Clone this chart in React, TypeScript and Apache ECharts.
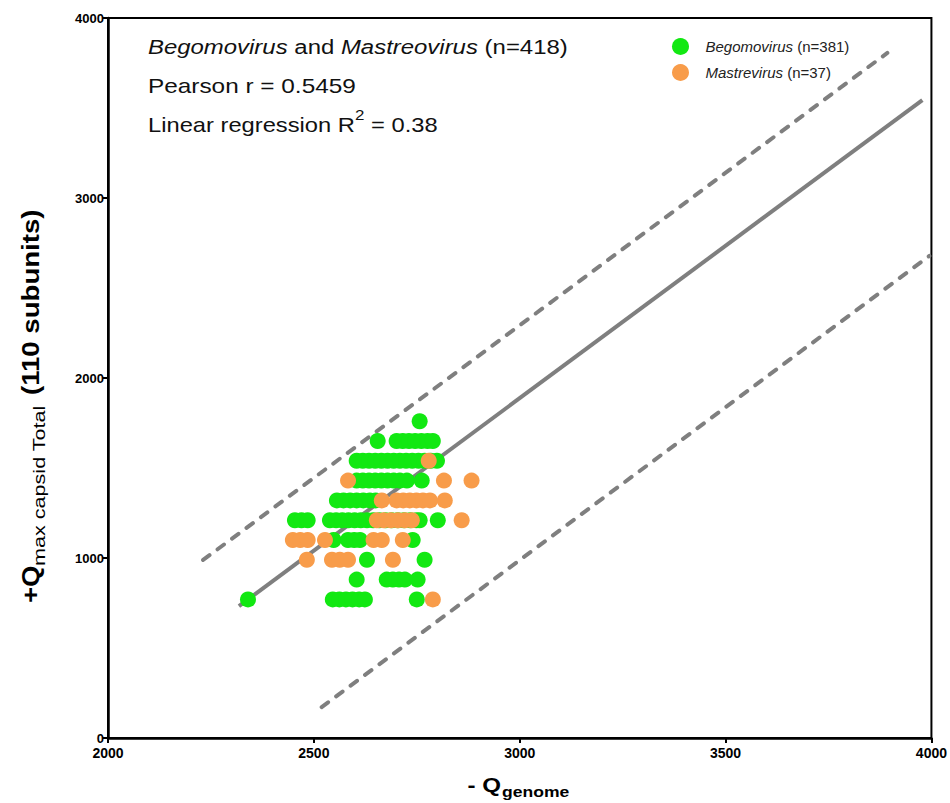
import React, { useEffect, useRef } from 'react';
import * as echarts from 'echarts';

const FONT = '"Liberation Sans", Arial, Helvetica, sans-serif';

// Axis ranges / ticks
const xRange = [2000, 4000];
const xStep = 500;
const yRange = [0, 4000];
const yStep = 1000;

// Begomovirus points [Q_genome, Q_max capsid]
const begomovirusPoints: number[][] = [
  [2340, 770], [2546, 770], [2562, 770], [2578, 770], [2594, 770], [2610, 770], [2624, 770], [2750, 770],
  [2604, 880], [2677, 880], [2692, 880], [2707, 880], [2721, 880], [2752, 880],
  [2629, 990], [2769, 990],
  [2548, 1100], [2583, 1100], [2598, 1100], [2612, 1100], [2740, 1100],
  [2454, 1210], [2470, 1210], [2485, 1210], [2539, 1210], [2554, 1210], [2569, 1210], [2584, 1210],
  [2599, 1210], [2614, 1210], [2629, 1210], [2644, 1210], [2659, 1210], [2674, 1210], [2689, 1210],
  [2704, 1210], [2719, 1210], [2734, 1210], [2749, 1210], [2757, 1210], [2801, 1210],
  [2556, 1320], [2572, 1320], [2588, 1320], [2604, 1320], [2620, 1320], [2636, 1320], [2650, 1320],
  [2604, 1430], [2619, 1430], [2634, 1430], [2649, 1430], [2664, 1430], [2679, 1430], [2694, 1430],
  [2709, 1430], [2726, 1430], [2762, 1430],
  [2604, 1540], [2619, 1540], [2634, 1540], [2649, 1540], [2664, 1540], [2679, 1540], [2694, 1540],
  [2709, 1540], [2724, 1540], [2739, 1540], [2754, 1540], [2769, 1540], [2784, 1540], [2799, 1540],
  [2655, 1650], [2701, 1650], [2716, 1650], [2731, 1650], [2746, 1650], [2761, 1650], [2776, 1650], [2789, 1650],
  [2757, 1760],
];

// Mastrevirus points
const mastrevirusPoints: number[][] = [
  [2789, 770],
  [2483, 990], [2544, 990], [2563, 990], [2583, 990], [2692, 990],
  [2449, 1100], [2467, 1100], [2485, 1100], [2527, 1100], [2645, 1100], [2665, 1100], [2716, 1100],
  [2653, 1210], [2670, 1210], [2687, 1210], [2704, 1210], [2721, 1210], [2738, 1210], [2859, 1210],
  [2665, 1320], [2701, 1320], [2717, 1320], [2733, 1320], [2749, 1320], [2765, 1320], [2782, 1320], [2818, 1320],
  [2583, 1430], [2816, 1430], [2883, 1430],
  [2779, 1540],
];

// Regression line and prediction bands (end points)
const regressionLine: number[][] = [[2318, 733], [3978, 3544]];
const upperBand: number[][] = [[2231, 989], [3893, 3806]];
const lowerBand: number[][] = [[2519, 172], [3995, 2678]];

const GREEN = '#12e812';
const ORANGE = '#f89c4a';
const GRAY = '#7f7f7f';

const tok = (size: number, extra: any = {}) => ({
  fontSize: size,
  fontFamily: FONT,
  fontWeight: 'normal',
  fontStyle: 'normal',
  fill: '#111',
  ...extra,
});

export default function App() {
  const ref = useRef<HTMLDivElement>(null);

  useEffect(() => {
    document.body.style.margin = '0';
    if (!ref.current) return;
    const chart = echarts.init(ref.current, undefined, { renderer: 'svg' });

    const axisCommon = {
      type: 'value' as const,
      axisLine: { show: true, onZero: false, lineStyle: { color: '#000', width: 2.5 } },
      axisTick: { show: true, length: 5, lineStyle: { color: '#000', width: 2 } },
      splitLine: { show: false },
      axisLabel: {
        color: '#000',
        fontWeight: 'bold' as const,
        fontSize: 14,
        fontFamily: FONT,
        formatter: (v: number) => String(v),
      },
    };

    chart.setOption({
      animation: false,
      backgroundColor: '#fff',
      grid: {
        left: 108,
        right: 18,
        top: 18,
        bottom: 65,
        show: true,
        borderColor: '#000',
        borderWidth: 2,
      },
      xAxis: {
        ...axisCommon,
        min: xRange[0],
        max: xRange[1],
        interval: xStep,
        axisLabel: { ...axisCommon.axisLabel, margin: 8 },
      },
      yAxis: {
        ...axisCommon,
        min: yRange[0],
        max: yRange[1],
        interval: yStep,
        axisLabel: { ...axisCommon.axisLabel, fontSize: 13, margin: 4 },
      },
      legend: {
        data: ['Begomovirus', 'Mastrevirus'],
        orient: 'vertical',
        left: 667,
        top: 33,
        icon: 'circle',
        itemWidth: 40,
        itemHeight: 17,
        itemGap: 9,
        textStyle: {
          fontSize: 15,
          fontFamily: FONT,
          color: '#222',
          rich: {
            i: { fontSize: 15, fontFamily: FONT, fontStyle: 'italic', color: '#222' },
          },
        },
        formatter: (name: string) =>
          name === 'Begomovirus' ? '{i|Begomovirus} (n=381)' : '{i|Mastrevirus} (n=37)',
      },
      graphic: [
        {
          type: 'text',
          x: 148,
          y: 47,
          scaleX: 1.14,
          style: {
            text: '{i|Begomovirus}{n| and }{i|Mastreovirus}{n| (n=418)}',
            verticalAlign: 'middle',
            align: 'left',
            rich: {
              i: tok(21, { fontStyle: 'italic' }),
              n: tok(21),
            },
            ...tok(21),
          },
        },
        {
          type: 'text',
          x: 148,
          y: 86,
          scaleX: 1.16,
          style: {
            text: 'Pearson r = 0.5459',
            verticalAlign: 'middle',
            align: 'left',
            ...tok(21),
          },
        },
        {
          type: 'text',
          x: 148,
          y: 121,
          scaleX: 1.13,
          style: {
            text: '{n|Linear regression R}{s|2}{n| = 0.38}',
            verticalAlign: 'middle',
            align: 'left',
            rich: {
              n: tok(21, { lineHeight: 28, verticalAlign: 'bottom' }),
              s: tok(15, { lineHeight: 16, verticalAlign: 'top' }),
            },
            ...tok(21),
          },
        },
        // x-axis title: - Q_genome
        {
          type: 'text',
          x: 501,
          y: 785,
          scaleX: 1.15,
          style: {
            text: '- Q',
            align: 'right',
            verticalAlign: 'middle',
            ...tok(21, { fontWeight: 'bold', fill: '#000' }),
          },
        },
        {
          type: 'text',
          x: 502,
          y: 791,
          scaleX: 1.17,
          style: {
            text: 'genome',
            align: 'left',
            verticalAlign: 'middle',
            ...tok(15, { fontWeight: 'bold', fill: '#000' }),
          },
        },
        // y-axis title: +Q_max capsid Total (110 subunits)
        {
          type: 'group',
          x: 31,
          y: 603,
          rotation: Math.PI / 2,
          children: [
            {
              type: 'text',
              x: 0,
              y: 0,
              scaleX: 1.2,
              style: {
                text: '+Q',
                align: 'left',
                verticalAlign: 'middle',
                ...tok(23, { fontWeight: 'bold', fill: '#000' }),
              },
            },
            {
              type: 'text',
              x: 37,
              y: 8,
              scaleX: 1.27,
              style: {
                text: 'max capsid Total',
                align: 'left',
                verticalAlign: 'middle',
                ...tok(17, { fill: '#000' }),
              },
            },
            {
              type: 'text',
              x: 208,
              y: 0,
              scaleX: 1.2,
              style: {
                text: '(110 subunits)',
                align: 'left',
                verticalAlign: 'middle',
                ...tok(23, { fontWeight: 'bold', fill: '#000' }),
              },
            },
          ],
        },
      ],
      series: [
        {
          name: 'upper',
          type: 'line',
          data: upperBand,
          symbol: 'none',
          silent: true,
          z: 1,
          lineStyle: { color: GRAY, width: 4, type: [8, 10], cap: 'round' },
        },
        {
          name: 'lower',
          type: 'line',
          data: lowerBand,
          symbol: 'none',
          silent: true,
          z: 1,
          lineStyle: { color: GRAY, width: 4, type: [8, 10], cap: 'round' },
        },
        {
          name: 'regression',
          type: 'line',
          data: regressionLine,
          symbol: 'none',
          silent: true,
          z: 1,
          lineStyle: { color: GRAY, width: 4 },
        },
        {
          name: 'Begomovirus',
          type: 'scatter',
          data: begomovirusPoints,
          symbol: 'circle',
          symbolSize: 16,
          z: 3,
          itemStyle: { color: GREEN, opacity: 1 },
        },
        {
          name: 'Mastrevirus',
          type: 'scatter',
          data: mastrevirusPoints,
          symbol: 'circle',
          symbolSize: 16,
          z: 4,
          itemStyle: { color: ORANGE, opacity: 1 },
        },
      ],
    });

    return () => chart.dispose();
  }, []);

  return (
    <div
      ref={ref}
      style={{ position: 'absolute', left: 0, top: 0, width: 950, height: 803 }}
    />
  );
}
